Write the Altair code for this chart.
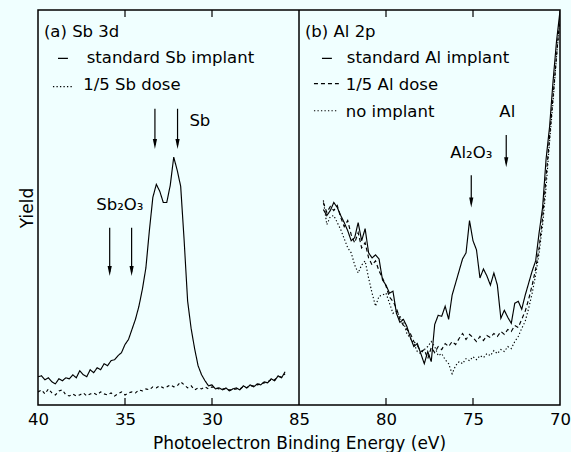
import altair as alt
import pandas as pd

FONT = "DejaVu Sans"
BG = "#f0ffff"
INK = "black"

# ---------------- data ----------------
sb_energy = [40.0, 39.8, 39.6, 39.4, 39.2, 39.0, 38.8, 38.6, 38.4, 38.2,
             38.0, 37.8, 37.6, 37.4, 37.2, 37.0, 36.8, 36.6, 36.4, 36.2,
             36.0, 35.8, 35.6, 35.4, 35.2, 35.0, 34.8, 34.6, 34.4, 34.2,
             34.0, 33.8, 33.6, 33.4, 33.2, 33.0, 32.8, 32.6, 32.4, 32.2,
             32.0, 31.8, 31.6, 31.4, 31.2, 31.0, 30.8, 30.6, 30.4, 30.2,
             30.0, 29.8, 29.6, 29.4, 29.2, 29.0, 28.8, 28.6, 28.4, 28.2,
             28.0, 27.8, 27.6, 27.4, 27.2, 27.0, 26.8, 26.6, 26.4, 26.2,
             26.0, 25.8]
sb_standard = [28, 29, 25, 27, 23, 21, 26, 24, 27, 26,
               30, 27, 34, 30, 28, 35, 32, 37, 35, 41,
               39, 44, 45, 49, 52, 60, 65, 75, 85, 98,
               115, 136, 173, 206, 219, 212, 201, 201, 218, 246,
               233, 217, 163, 103, 76, 56, 39, 30, 24, 19,
               20, 16, 17, 15, 17, 14, 16, 17, 15, 19,
               17, 20, 18, 21, 20, 23, 22, 26, 24, 29,
               27, 33]
sb_fifth = [13, 15, 11, 16, 12, 10, 14, 15, 10, 9,
            11, 9, 10, 12, 9, 11, 12, 10, 13, 11,
            10, 12, 9, 11, 13, 10, 12, 13, 12, 15,
            14, 16, 15, 18, 17, 19, 17, 18, 20, 18,
            19, 23, 20, 17, 19, 15, 17, 16, 18, 16,
            18, 17, 16, 16, 16, 15, 15, 16, 16, 18,
            17, 19, 19, 20, 21, 22, 23, 25, 25, 28,
            28, 31]

al_energy = [83.6, 83.4, 83.2, 83.0, 82.8, 82.6, 82.4, 82.2, 82.0, 81.8,
             81.6, 81.4, 81.2, 81.0, 80.8, 80.6, 80.4, 80.2, 80.0, 79.8,
             79.6, 79.4, 79.2, 79.0, 78.8, 78.6, 78.4, 78.2, 78.0, 77.8,
             77.6, 77.4, 77.2, 77.0, 76.8, 76.6, 76.4, 76.2, 76.0, 75.8,
             75.6, 75.4, 75.2, 75.0, 74.8, 74.6, 74.4, 74.2, 74.0, 73.8,
             73.6, 73.4, 73.2, 73.0, 72.8, 72.6, 72.4, 72.2, 72.0, 71.8,
             71.6, 71.4, 71.2, 71.0, 70.8, 70.6, 70.4, 70.2, 70.0]
al_standard = [194, 188, 193, 201, 196, 188, 181, 173, 163, 166,
               181, 163, 175, 151, 146, 149, 145, 124, 119, 111,
               113, 91, 82, 85, 78, 67, 58, 61, 51, 41,
               53, 43, 80, 89, 88, 98, 85, 109, 121, 133,
               145, 151, 183, 163, 154, 126, 135, 128, 119, 131,
               119, 86, 94, 87, 81, 101, 103, 95, 109, 121,
               133, 143, 171, 196, 244, 276, 321, 361, 391]
al_fifth = [201, 191, 197, 193, 198, 186, 177, 183, 169, 161,
            171, 156, 161, 146, 139, 143, 133, 126, 118, 107,
            103, 96, 85, 79, 75, 71, 63, 59, 53, 55,
            46, 57, 52, 58, 55, 61, 58, 63, 60, 66,
            71, 65, 70, 67, 63, 68, 64, 69, 67, 71,
            68, 73, 70, 75, 73, 79, 77, 85, 93, 105,
            119, 135, 156, 186, 226, 266, 306, 346, 386]
al_none = [203, 179, 187, 188, 181, 174, 165, 156, 151, 139,
           131, 139, 143, 126, 111, 98, 108, 109, 111, 101,
           91, 93, 88, 83, 71, 66, 61, 53, 51, 55,
           58, 63, 58, 49, 51, 45, 41, 31, 39, 43,
           41, 46, 44, 48, 45, 49, 47, 51, 49, 54,
           51, 55, 53, 58, 56, 63, 68, 76, 83, 96,
           111, 129, 151, 179, 216, 261, 301, 346, 383]

sb_names = ["standard Sb implant", "1/5 Sb dose"]
al_names = ["standard Al implant", "1/5 Al dose", "no implant"]

# panel energy windows (high -> low binding energy, left to right)
sb_window = [40, 25]
al_window = [85, 70]
sb_tick_labels = [40, 35, 30]
sb_inner_ticks = [35, 30]
al_tick_labels = [85, 80, 75, 70]
al_inner_ticks = [80, 75]

# annotation content (energies of marked features)
sb_metal_arrows = [33.28, 31.98]
sb_oxide_arrows = [35.88, 34.62]
al_metal_arrows = [73.09]
al_oxide_arrows = [75.10]

# ---------------- layout / style ----------------
YDOM = [0, 392]
TICK = 7
FS = 16.5
SOLID, DASH, DOT = [1, 0], [4, 3], [1.3, 2.2]
SB_DASH = [3, 3]
SPAN = sb_window[0] - sb_window[1]          # 15 eV per panel

# panel offset on the shared position axis: left panel 0..15, right panel 15..30
SB_POS = f"{sb_window[0]} - datum.E"
AL_POS = f"{SPAN} + {al_window[0]} - datum.E"

tick_positions = [sb_window[0] - v for v in sb_tick_labels] + \
                 [SPAN + al_window[0] - v for v in al_tick_labels]
label_expr = (f"datum.value < {SPAN} ? format({sb_window[0]} - datum.value, 'd')"
              f" : format({SPAN + al_window[0]} - datum.value, 'd')")

XAXIS = alt.Axis(values=tick_positions, labelExpr=label_expr, labelFlush=False,
                 ticks=False, domain=False, grid=False, labelFont=FONT, labelFontSize=FS,
                 labelColor=INK, labelPadding=6,
                 title="Photoelectron Binding Energy (eV)", titleFont=FONT,
                 titleFontSize=17, titleFontWeight="normal", titleColor=INK,
                 titlePadding=8)
YAXIS = alt.Axis(labels=False, ticks=False, domain=False, grid=False, title="Yield",
                 titleFont=FONT, titleFontSize=17, titleFontWeight="normal",
                 titleColor=INK, titlePadding=2)


def X(field="P"):
    return alt.X(f"{field}:Q", scale=alt.Scale(domain=[0, 2 * SPAN], nice=False, zero=False),
                 axis=XAXIS)


def Y(field="Y"):
    return alt.Y(f"{field}:Q", scale=alt.Scale(domain=YDOM, nice=False, zero=False),
                 axis=YAXIS)


layers = []


def curve(energy, vals, dash, pos):
    df = pd.DataFrame({"E": energy, "Y": vals})
    layers.append(
        alt.Chart(df).transform_calculate(P=pos)
        .mark_line(color=INK, strokeWidth=1.15, strokeDash=dash, clip=True)
        .encode(x=X(), y=Y()))


def text(labels, es, ys, align, pos):
    df = pd.DataFrame({"E": es, "Y": ys, "t": labels})
    layers.append(
        alt.Chart(df).transform_calculate(P=pos)
        .mark_text(align=align, baseline="middle", font=FONT, fontSize=FS, color=INK)
        .encode(x=X(), y=Y(), text="t:N"))


def legend_line(e1, e2, yv, dash, pos):
    df = pd.DataFrame({"E": [e1], "E2": [e2], "Y": [yv]})
    layers.append(
        alt.Chart(df).transform_calculate(P=pos, P2=pos.replace("datum.E", "datum.E2"))
        .mark_rule(color=INK, strokeWidth=1.2, strokeDash=dash)
        .encode(x=X(), x2="P2:Q", y=Y()))


def arrows(es, top, tip, pos):
    n = len(es)
    df = pd.DataFrame({"E": es, "Y": [top] * n, "Y2": [tip + 4] * n})
    dh = pd.DataFrame({"E": es, "Y": [tip + 5] * n})
    layers.append(
        alt.Chart(df).transform_calculate(P=pos).mark_rule(color=INK, strokeWidth=1.2)
        .encode(x=X(), y=Y(), y2="Y2:Q"))
    layers.append(
        alt.Chart(dh).transform_calculate(P=pos)
        .mark_point(shape="M0,1L-0.42,-1L0.42,-1Z", filled=True, size=100,
                    color=INK, opacity=1, strokeWidth=0)
        .encode(x=X(), y=Y()))


def ticks(es, pos):
    # inward tick marks on the bottom and top edges of the frame
    n = len(es)
    lo = pd.DataFrame({"E": es, "Y": [YDOM[0]] * n, "Y2": [YDOM[0] + TICK] * n})
    hi = pd.DataFrame({"E": es, "Y": [YDOM[1]] * n, "Y2": [YDOM[1] - TICK] * n})
    for df in (lo, hi):
        layers.append(
            alt.Chart(df).transform_calculate(P=pos).mark_rule(color=INK, strokeWidth=1.2)
            .encode(x=X(), y=Y(), y2="Y2:Q"))


# ---- left panel: Sb 3d ----
curve(sb_energy, sb_standard, SOLID, SB_POS)
curve(sb_energy, sb_fifth, SB_DASH, SB_POS)
text(["(a) Sb 3d"], [39.66], [370], "left", SB_POS)
text(sb_names, [37.2, 37.4], [344, 318], "left", SB_POS)
legend_line(38.85, 38.28, 344, SOLID, SB_POS)
legend_line(39.14, 38.0, 316, DOT, SB_POS)
text(["Sb"], [31.30], [282], "left", SB_POS)
text(["Sb\u2082O\u2083"], [35.3], [198], "center", SB_POS)
arrows(sb_metal_arrows, 294, 254, SB_POS)
arrows(sb_oxide_arrows, 176, 128, SB_POS)
ticks(sb_inner_ticks, SB_POS)

# ---- right panel: Al 2p ----
curve(al_energy, al_standard, SOLID, AL_POS)
curve(al_energy, al_fifth, DASH, AL_POS)
curve(al_energy, al_none, DOT, AL_POS)
text(["(b) Al 2p"], [84.66], [370], "left", AL_POS)
text(al_names, [82.25, 82.31, 82.31], [344, 318, 291], "left", AL_POS)
legend_line(83.68, 83.11, 344, SOLID, AL_POS)
legend_line(84.14, 82.71, 319, DASH, AL_POS)
legend_line(84.14, 82.82, 292, DOT, AL_POS)
text(["Al"], [73.03], [291], "center", AL_POS)
text(["Al\u2082O\u2083"], [75.10], [250], "center", AL_POS)
arrows(al_metal_arrows, 268, 236, AL_POS)
arrows(al_oxide_arrows, 228, 196, AL_POS)
ticks(al_inner_ticks, AL_POS)

# divider between the two panels (the 25 eV / 85 eV boundary)
layers.append(
    alt.Chart(pd.DataFrame({"E": [al_window[0]]})).transform_calculate(P=AL_POS)
    .mark_rule(color=INK, strokeWidth=1.5).encode(x=X()))

chart = (
    alt.layer(*layers)
    .properties(width=571, height=452, background=BG,
                padding={"left": 18, "top": 9, "right": 0, "bottom": 0},
                autosize=alt.AutoSizeParams(type="fit", contains="padding"))
    .configure_view(stroke=INK, strokeWidth=1.5, fill=BG)
)

chart.save("out.html", embed_options={"renderer": "svg", "actions": False})
